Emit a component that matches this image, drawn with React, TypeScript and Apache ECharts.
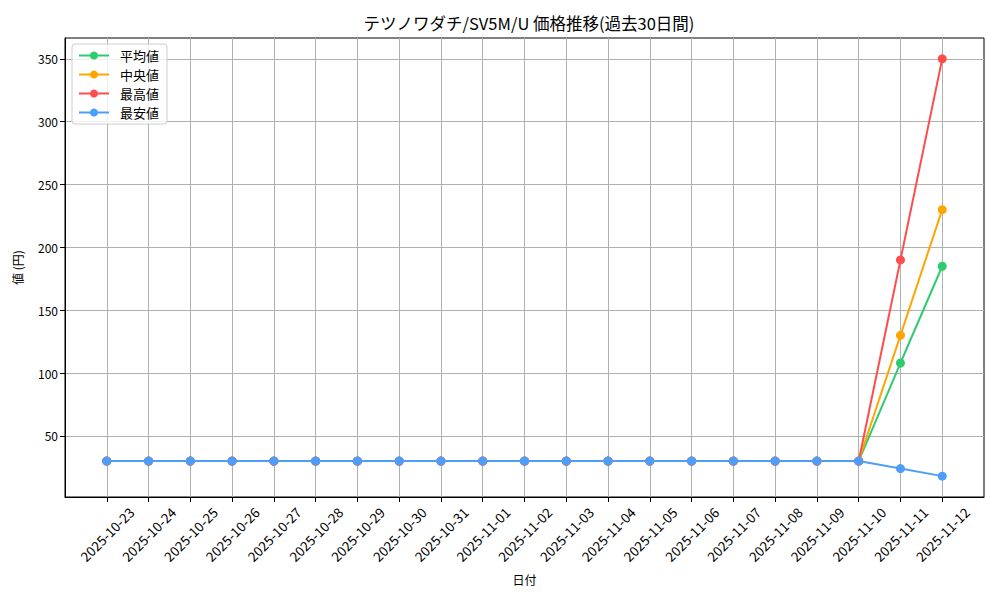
import { useEffect, useRef } from 'react';
import * as echarts from 'echarts';

// ─── Data ─────────────────────────────────────────────────────────────────────

const dates = [
  '2025-10-23', '2025-10-24', '2025-10-25', '2025-10-26', '2025-10-27',
  '2025-10-28', '2025-10-29', '2025-10-30', '2025-10-31', '2025-11-01',
  '2025-11-02', '2025-11-03', '2025-11-04', '2025-11-05', '2025-11-06',
  '2025-11-07', '2025-11-08', '2025-11-09', '2025-11-10', '2025-11-11',
  '2025-11-12',
];

const flat = [30, 30, 30, 30, 30, 30, 30, 30, 30, 30, 30, 30, 30, 30, 30, 30, 30, 30, 30];

const avgValues = [...flat, 108, 185];
const medianValues = [...flat, 130, 230];
const maxValues = [...flat, 190, 350];
const minValues = [...flat, 24, 18];

const yTicks = [50, 100, 150, 200, 250, 300, 350];

const FONT = '"Noto Sans CJK JP", "DejaVu Sans", sans-serif';

// ─── Option builder ───────────────────────────────────────────────────────────

function makeSeries(name: string, values: number[], color: string) {
  return {
    name,
    type: 'line',
    data: values.map((v, i) => [i, v]),
    symbol: 'circle',
    symbolSize: 9,
    lineStyle: { color, width: 2 },
    itemStyle: { color },
  };
}

function buildOption(): echarts.EChartsOption {
  const idx = dates.map((_, i) => i);
  return {
    animation: false,
    textStyle: { fontFamily: FONT },
    title: {
      text: 'テツノワダチ/SV5M/U 価格推移(過去30日間)',
      left: 524,
      textAlign: 'center',
      top: 10,
      textStyle: { fontFamily: FONT, fontSize: 16.5, fontWeight: 'normal', color: '#000' },
    },
    legend: {
      orient: 'vertical',
      left: 72,
      top: 44,
      itemWidth: 30,
      itemHeight: 10,
      itemGap: 6,
      padding: [5, 8, 5, 6],
      backgroundColor: 'rgba(255,255,255,0.8)',
      borderColor: '#cccccc',
      borderWidth: 1,
      borderRadius: 3,
      textStyle: { fontFamily: FONT, fontSize: 13, color: '#000', padding: [0, 0, 0, 6] },
    },
    grid: {
      left: 65,
      right: 16,
      top: 38,
      bottom: 103,
      show: true,
      borderColor: '#000',
      borderWidth: 1,
      backgroundColor: '#fff',
    },
    xAxis: {
      type: 'value',
      min: -1,
      max: 21,
      interval: 1,
      name: '日付',
      nameLocation: 'middle',
      nameGap: 76,
      nameTextStyle: { fontFamily: FONT, fontSize: 12, color: '#000' },
      axisLine: { onZero: false, lineStyle: { color: '#000', width: 1 } },
      axisTick: { show: true, length: 5, lineStyle: { color: '#000' }, customValues: idx },
      axisLabel: {
        customValues: idx,
        rotate: 45,
        align: 'center',
        verticalAlign: 'middle',
        margin: 37,
        fontSize: 13.5,
        color: '#000',
        fontFamily: FONT,
        formatter: (v: number) => dates[v] ?? '',
      },
      splitLine: { show: true, lineStyle: { color: '#b0b0b0', width: 1 } },
    },
    yAxis: {
      type: 'value',
      min: 1.4,
      max: 366.6,
      name: '値 (円)',
      nameLocation: 'middle',
      nameGap: 42,
      nameRotate: 90,
      nameTextStyle: { fontFamily: FONT, fontSize: 12, color: '#000' },
      axisLine: { show: true, onZero: false, lineStyle: { color: '#000', width: 1 } },
      axisTick: { show: true, length: 5, lineStyle: { color: '#000' }, customValues: yTicks },
      axisLabel: {
        customValues: yTicks,
        margin: 7,
        fontSize: 12,
        color: '#000',
        fontFamily: FONT,
      },
      splitLine: { show: true, lineStyle: { color: '#b0b0b0', width: 1 } },
    },
    series: [
      makeSeries('平均値', avgValues, '#2ecc71'),
      makeSeries('中央値', medianValues, '#ffa500'),
      makeSeries('最高値', maxValues, '#ff4d4d'),
      makeSeries('最安値', minValues, '#4d9dff'),
    ] as echarts.SeriesOption[],
  };
}

// ─── Chart ────────────────────────────────────────────────────────────────────

export default function App() {
  const ref = useRef<HTMLDivElement>(null);

  useEffect(() => {
    if (!ref.current) return;
    const chart = echarts.init(ref.current, null, { renderer: 'svg' });
    chart.setOption(buildOption());
    return () => chart.dispose();
  }, []);

  return (
    <div
      ref={ref}
      style={{ position: 'fixed', left: 0, top: 0, width: 1000, height: 600, background: '#fff' }}
    />
  );
}
